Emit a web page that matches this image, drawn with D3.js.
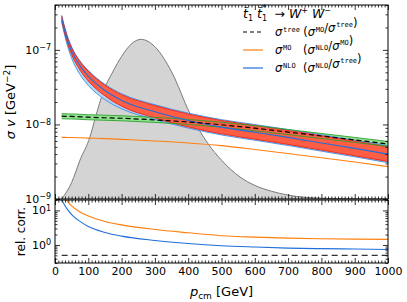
<!DOCTYPE html>
<html>
<head>
<meta charset="utf-8">
<script src="https://cdn.jsdelivr.net/npm/d3@7"></script>
<style>
  body { margin: 0; background: #fff; }
  svg { display: block; font-family: "DejaVu Sans", sans-serif; }
  .axis line { stroke: #000; stroke-width: 0.8; }
  .axis path { display: none; }
  .axis text { font-size: 11px; fill: #000; font-family: "DejaVu Sans", sans-serif; }
</style>
</head>
<body>
<div id="chart"></div>
<script>
// momentum grid (GeV) shared by all curves
var pcm = [20, 30, 40, 50, 75, 100, 150, 200, 300, 400, 500, 600, 700, 800, 900, 1000];

// sigma v, NLO central value and its two uncertainty bands
var sigmaNLO = [2.65e-7, 1.75e-7, 1.25e-7, 9.6e-8, 6.1e-8, 4.45e-8, 2.85e-8, 2.1e-8, 1.48e-8, 1.13e-8, 9.2e-9, 7.85e-9, 6.7e-9, 5.65e-9, 4.77e-9, 4.0e-9];
var nloRedHi = [2.84e-7, 1.90e-7, 1.37e-7, 1.065e-7, 6.92e-8, 5.17e-8, 3.36e-8, 2.51e-8, 1.79e-8, 1.38e-8, 1.13e-8, 9.70e-9, 8.32e-9, 7.05e-9, 5.98e-9, 5.04e-9];
var nloRedLo = [2.47e-7, 1.615e-7, 1.14e-7, 8.65e-8, 5.37e-8, 3.83e-8, 2.415e-8, 1.755e-8, 1.222e-8, 9.25e-9, 7.48e-9, 6.35e-9, 5.40e-9, 4.53e-9, 3.81e-9, 3.18e-9];
var nloBlueHi = [2.92e-7, 1.95e-7, 1.41e-7, 1.095e-7, 7.11e-8, 5.31e-8, 3.45e-8, 2.58e-8, 1.84e-8, 1.42e-8, 1.16e-8, 9.97e-9, 8.55e-9, 7.25e-9, 6.15e-9, 5.18e-9];
var nloBlueLo = [2.36e-7, 1.507e-7, 1.04e-7, 7.71e-8, 4.68e-8, 3.34e-8, 2.15e-8, 1.62e-8, 1.167e-8, 8.94e-9, 7.23e-9, 6.14e-9, 5.22e-9, 4.38e-9, 3.68e-9, 3.07e-9];

// tree level and its green band
var sigmaTree = [1.29e-8, 1.285e-8, 1.28e-8, 1.28e-8, 1.265e-8, 1.25e-8, 1.23e-8, 1.21e-8, 1.15e-8, 1.08e-8, 9.9e-9, 8.9e-9, 7.9e-9, 7.0e-9, 6.2e-9, 5.47e-9];
var treeHi = [1.395e-8, 1.389e-8, 1.384e-8, 1.384e-8, 1.367e-8, 1.351e-8, 1.33e-8, 1.308e-8, 1.243e-8, 1.167e-8, 1.07e-8, 9.62e-9, 8.54e-9, 7.57e-9, 6.70e-9, 5.91e-9];
var treeLo = [1.193e-8, 1.189e-8, 1.184e-8, 1.184e-8, 1.170e-8, 1.156e-8, 1.138e-8, 1.119e-8, 1.064e-8, 9.99e-9, 9.16e-9, 8.23e-9, 7.31e-9, 6.48e-9, 5.74e-9, 5.06e-9];

// MO (orange)
var sigmaMO = [6.7e-9, 6.7e-9, 6.68e-9, 6.67e-9, 6.62e-9, 6.56e-9, 6.45e-9, 6.3e-9, 6.0e-9, 5.65e-9, 5.2e-9, 4.62e-9, 4.07e-9, 3.58e-9, 3.13e-9, 2.72e-9];

// lower panel: relative corrections
var corrTree = [0.5, 0.5, 0.5, 0.5, 0.5, 0.5, 0.5, 0.5, 0.5, 0.5, 0.5, 0.5, 0.5, 0.5, 0.5, 0.5];
var corrMO = [40, 24, 17, 13.5, 9, 6.9, 4.8, 3.8, 2.8, 2.25, 1.85, 1.68, 1.57, 1.51, 1.47, 1.45];
var corrNLO = [20.5, 13.6, 9.8, 7.5, 4.8, 3.4, 2.3, 1.8, 1.35, 1.1, 0.95, 0.87, 0.81, 0.78, 0.76, 0.74];

// gray momentum distribution (arbitrary units, fraction of panel height)
var distP = [20, 50, 75, 105, 122, 145, 175, 200, 230, 258, 300, 350, 405, 460, 500, 556, 600, 650, 700, 800, 900, 1000];
var distV = [0, 0.085, 0.2, 0.32, 0.424, 0.553, 0.66, 0.735, 0.8, 0.823, 0.785, 0.656, 0.442, 0.284, 0.2, 0.113, 0.07, 0.04, 0.02, 0.004, 0.001, 0];

var xMajor = [0, 100, 200, 300, 400, 500, 600, 700, 800, 900, 1000];
var mainDecades = [1e-9, 1e-8, 1e-7];
var lowDecades = [1, 10];

var width = 407, height = 302;
var left = 55, right = 388, mainTop = 5, mainBottom = 199, lowTop = 200, lowBottom = 263;

var svg = d3.select("#chart").append("svg")
  .attr("width", width)
  .attr("height", height);

var x = d3.scaleLinear().domain([0, 1000]).range([left, right]);
var yMain = d3.scaleLog().domain([1e-9, 4e-7]).range([mainBottom, mainTop]);
var yDist = d3.scaleLinear().domain([0, 1]).range([mainBottom, mainTop]);
var yLow = d3.scaleLog().domain([0.3, 20]).range([lowBottom, lowTop]);

// clip paths
var defs = svg.append("defs");
defs.append("clipPath").attr("id", "clipMain").append("rect")
  .attr("x", left).attr("y", mainTop).attr("width", right - left).attr("height", mainBottom - mainTop);
defs.append("clipPath").attr("id", "clipLow").append("rect")
  .attr("x", left).attr("y", lowTop).attr("width", right - left).attr("height", lowBottom - lowTop);

var main = svg.append("g").attr("clip-path", "url(#clipMain)");
var low = svg.append("g").attr("clip-path", "url(#clipLow)");

function lineOf(ys, yScale) {
  return d3.line()
    .x(function(d, i) { return x(pcm[i]); })
    .y(function(d, i) { return yScale(ys[i]); })
    .curve(d3.curveMonotoneX)(pcm);
}
function bandOf(lo, hi) {
  return d3.area()
    .x(function(d, i) { return x(pcm[i]); })
    .y0(function(d, i) { return yMain(lo[i]); })
    .y1(function(d, i) { return yMain(hi[i]); })
    .curve(d3.curveMonotoneX)(pcm);
}

// gray distribution
var distArea = d3.area()
  .x(function(d) { return x(d); })
  .y0(mainBottom)
  .y1(function(d, i) { return yDist(distV[i]); })
  .curve(d3.curveMonotoneX);
main.append("path").attr("d", distArea(distP))
  .attr("fill", "#d4d4d4").attr("stroke", "none");
main.append("path")
  .attr("d", d3.line().x(function(d) { return x(d); })
    .y(function(d, i) { return yDist(distV[i]); })
    .curve(d3.curveMonotoneX)(distP))
  .attr("fill", "none").attr("stroke", "#7a7a7a").attr("stroke-width", 1);

// bands
main.append("path").attr("d", bandOf(treeLo, treeHi)).attr("fill", "#8fe38f");
main.append("path").attr("d", bandOf(nloBlueLo, nloBlueHi)).attr("fill", "#b3d5f2");
main.append("path").attr("d", bandOf(nloRedLo, nloRedHi)).attr("fill", "#ff5e45");

// band edges
[[nloBlueHi, "#3d8fe6"], [nloBlueLo, "#3d8fe6"], [nloRedHi, "#e8241a"], [nloRedLo, "#e8241a"],
 [treeHi, "#2ca02c"], [treeLo, "#2ca02c"]].forEach(function(e) {
  main.append("path").attr("d", lineOf(e[0], yMain))
    .attr("fill", "none").attr("stroke", e[1]).attr("stroke-width", 0.9);
});

// central curves
main.append("path").attr("d", lineOf(sigmaNLO, yMain))
  .attr("fill", "none").attr("stroke", "#1f6fdc").attr("stroke-width", 1.1);
main.append("path").attr("d", lineOf(sigmaTree, yMain))
  .attr("fill", "none").attr("stroke", "#000").attr("stroke-width", 1.2)
  .attr("stroke-dasharray", "5,3");
main.append("path").attr("d", lineOf(sigmaMO, yMain))
  .attr("fill", "none").attr("stroke", "#ff7f0e").attr("stroke-width", 1.1);

// lower panel
low.append("path").attr("d", lineOf(corrTree, yLow))
  .attr("fill", "none").attr("stroke", "#333").attr("stroke-width", 1.2)
  .attr("stroke-dasharray", "6,4");
low.append("path").attr("d", lineOf(corrMO, yLow))
  .attr("fill", "none").attr("stroke", "#ff7f0e").attr("stroke-width", 1.1);
low.append("path").attr("d", lineOf(corrNLO, yLow))
  .attr("fill", "none").attr("stroke", "#1f6fdc").attr("stroke-width", 1.1);

// axes: all ticks point inwards, on every side
function xTicks(yPos, inwardDown, withLabels) {
  var ax = inwardDown ? d3.axisTop(x) : d3.axisBottom(x);
  svg.append("g").attr("class", "axis").attr("transform", "translate(0," + yPos + ")")
    .call(ax.tickValues(xMajor).tickSize(-5).tickSizeOuter(0).tickPadding(4)
      .tickFormat(withLabels ? d3.format("d") : ""));
  var minor = d3.range(0, 1001, 10).filter(function(v) { return v % 100 !== 0; });
  var ax2 = inwardDown ? d3.axisTop(x) : d3.axisBottom(x);
  svg.append("g").attr("class", "axis").attr("transform", "translate(0," + yPos + ")")
    .call(ax2.tickValues(minor).tickSize(-2.5).tickSizeOuter(0).tickFormat(""));
}
xTicks(mainTop, true, false);
xTicks(mainBottom, false, false);
xTicks(lowTop, true, false);
xTicks(lowBottom, false, true);

function supLabel(sel) {
  sel.selectAll(".tick text").each(function(d) {
    var t = d3.select(this);
    var e = Math.round(Math.log10(d));
    t.text(null);
    t.append("tspan").text("10");
    t.append("tspan").attr("dy", "-0.45em").attr("font-size", "8px")
      .text(e < 0 ? "\u2212" + (-e) : String(e));
  });
}

function yTicks(scale, decades, isRight, withLabels) {
  var ax = isRight ? d3.axisRight(scale) : d3.axisLeft(scale);
  var g = svg.append("g").attr("class", "axis")
    .attr("transform", "translate(" + (isRight ? right : left) + ",0)")
    .call(ax.tickValues(decades).tickSize(-5).tickSizeOuter(0).tickPadding(4));
  if (withLabels) supLabel(g); else g.selectAll("text").remove();
  var minor = scale.ticks().filter(function(v) {
    var l = Math.log10(v);
    return Math.abs(l - Math.round(l)) > 1e-6;
  });
  var ax2 = isRight ? d3.axisRight(scale) : d3.axisLeft(scale);
  svg.append("g").attr("class", "axis")
    .attr("transform", "translate(" + (isRight ? right : left) + ",0)")
    .call(ax2.tickValues(minor).tickSize(-2.5).tickSizeOuter(0).tickFormat(""));
}
yTicks(yMain, mainDecades, false, true);
yTicks(yMain, mainDecades, true, false);
yTicks(yLow, lowDecades, false, true);
yTicks(yLow, lowDecades, true, false);

// frames
svg.append("rect").attr("x", left).attr("y", mainTop)
  .attr("width", right - left).attr("height", mainBottom - mainTop)
  .attr("fill", "none").attr("stroke", "#000").attr("stroke-width", 1);
svg.append("rect").attr("x", left).attr("y", lowTop)
  .attr("width", right - left).attr("height", lowBottom - lowTop)
  .attr("fill", "none").attr("stroke", "#000").attr("stroke-width", 1);

// axis labels
var xl = svg.append("text").attr("x", (left + right) / 2).attr("y", 296)
  .attr("text-anchor", "middle").attr("font-size", "13px");
xl.append("tspan").attr("font-style", "italic").text("p");
xl.append("tspan").attr("font-size", "9px").attr("dy", "3").text("cm");
xl.append("tspan").attr("dy", "-3").text(" [GeV]");

var yl = svg.append("text")
  .attr("transform", "translate(15," + ((mainTop + mainBottom) / 2) + ") rotate(-90)")
  .attr("text-anchor", "middle").attr("font-size", "13px");
yl.append("tspan").attr("font-style", "italic").text("\u03c3 v");
yl.append("tspan").text(" [GeV");
yl.append("tspan").attr("font-size", "9px").attr("dy", "-5").text("\u22122");
yl.append("tspan").attr("dy", "5").text("]");

svg.append("text")
  .attr("transform", "translate(25," + ((lowTop + lowBottom) / 2) + ") rotate(-90)")
  .attr("text-anchor", "middle").attr("font-size", "12px")
  .text("rel. corr.");

// legend
var legend = svg.append("g");
var title = legend.append("text").attr("x", 243).attr("y", 18).attr("font-size", "12.5px");
title.append("tspan").attr("font-style", "italic").text("t\u0303");
title.append("tspan").attr("font-size", "8px").attr("dy", "3").text("1");
title.append("tspan").attr("dy", "-3").attr("font-style", "italic").text(" t\u0303");
title.append("tspan").attr("font-size", "8px").attr("dy", "3").text("1");
title.append("tspan").attr("font-size", "9px").attr("dy", "-10").attr("dx", "-5").text("*");
title.append("tspan").attr("dy", "7").attr("dx", "4").text(" \u2192 ");
title.append("tspan").attr("font-style", "italic").text("W");
title.append("tspan").attr("font-size", "8px").attr("dy", "-5").text("+");
title.append("tspan").attr("dy", "5").attr("font-style", "italic").text(" W");
title.append("tspan").attr("font-size", "8px").attr("dy", "-5").text("\u2212");

var legendRows = [
  { y: 32, stroke: "#000", dash: "4,3", main: "tree", num: "MO", den: "tree", px: 300 },
  { y: 50, stroke: "#ff7f0e", dash: null, main: "MO", num: "NLO", den: "MO", px: 303 },
  { y: 68, stroke: "#1f6fdc", dash: null, main: "NLO", num: "NLO", den: "tree", px: 303 }
];

function sigmaSup(t, sup) {
  t.append("tspan").attr("font-style", "italic").text("\u03c3");
  t.append("tspan").attr("font-size", "7px").attr("dy", "-4.5").attr("dx", "0.8")
    .attr("font-family", "DejaVu Sans Mono").text(sup);
  t.append("tspan").attr("font-size", "7px").attr("dy", "4.5").attr("dx", "1.2").text("");
}

legendRows.forEach(function(r) {
  legend.append("line").attr("x1", 243).attr("x2", 263).attr("y1", r.y).attr("y2", r.y)
    .attr("stroke", r.stroke).attr("stroke-width", 1.2)
    .attr("stroke-dasharray", r.dash);
  var t1 = legend.append("text").attr("x", 275).attr("y", r.y + 4).attr("font-size", "11.5px");
  sigmaSup(t1, r.main);
  // keep the bracketed ratio clear of the symbol before it
  var end = 275 + t1.node().getComputedTextLength();
  var t2 = legend.append("text").attr("x", Math.max(r.px, end + 4)).attr("y", r.y + 4)
    .attr("font-size", "11.5px");
  t2.append("tspan").text("(");
  sigmaSup(t2, r.num);
  t2.append("tspan").text("/");
  sigmaSup(t2, r.den);
  t2.append("tspan").text(")");
});
</script>
</body>
</html>
